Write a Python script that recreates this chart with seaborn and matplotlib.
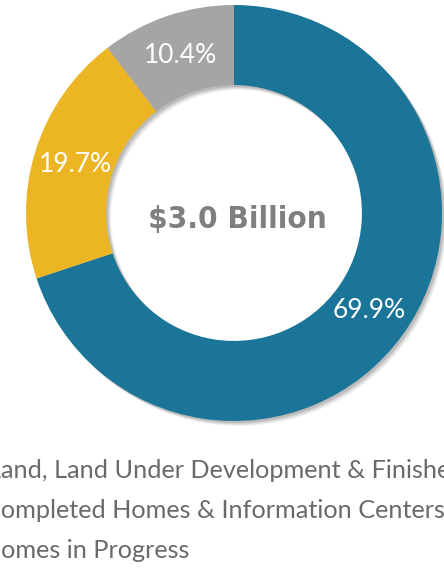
import matplotlib.pyplot as plt
import seaborn as sns

# 자산 구성 (도넛 차트)
segments = ['Land, Land Under Development & Finished Lots',
            'Completed Homes & Information Centers',
            'Homes in Progress']
shares = [69.9, 19.7, 10.4]
labels = ['69.9%', '19.7%', '10.4%']
total_label = r'\$3.0 Billion'
colors = ['#1a7598', '#ebb524', '#a5a5a5']

sns.set_theme(style='white')
plt.rcParams['font.family'] = ['Lato', 'DejaVu Sans']

fig = plt.figure(figsize=(4.44, 5.68), dpi=100)
ax = fig.add_axes([26 / 444, 147 / 568, 416 / 444, 416 / 568])

ring = 0.385
px = 1 / 208  # 1 pixel in data units

# 그림자 (오른쪽 아래로 살짝 번지게)
for off, a in [(5, 0.05), (4, 0.06), (3, 0.08), (2, 0.10)]:
    ax.pie(shares, radius=1.0, center=(off * px, -off * px), colors=['#000000'] * 3,
           startangle=90, counterclock=False,
           wedgeprops=dict(width=ring, alpha=a, linewidth=0))

wedges, texts = ax.pie(shares, radius=1.0, colors=colors, startangle=90, counterclock=False,
                       labels=labels, labeldistance=0.80,
                       wedgeprops=dict(width=ring, linewidth=0),
                       textprops=dict(color='white', fontsize=19, fontweight='normal',
                                      ha='center', va='center'))

ax.text(0.015, -0.07, total_label, ha='center', va='baseline', fontsize=22.5,
        fontweight='bold', fontstretch='condensed', color='#7f7f7f', family='DejaVu Sans')

ax.set_xlim(-1, 1)
ax.set_ylim(-1, 1)
ax.set_aspect('equal')
ax.axis('off')

# 범례 텍스트 (왼쪽이 잘린 상태)
fs = 18.2
fig.canvas.draw()
r = fig.canvas.get_renderer()
for i, s in enumerate(segments):
    probe = fig.text(0, 0, s[0], fontsize=fs)
    w = probe.get_window_extent(renderer=r).width
    probe.remove()
    y = (568 - 478 - 40 * i) / 568
    fig.text((1 - w) / 444, y, s, fontsize=fs, color='#6a6a6a',
             ha='left', va='baseline')

fig.savefig('out.png', dpi=100)
